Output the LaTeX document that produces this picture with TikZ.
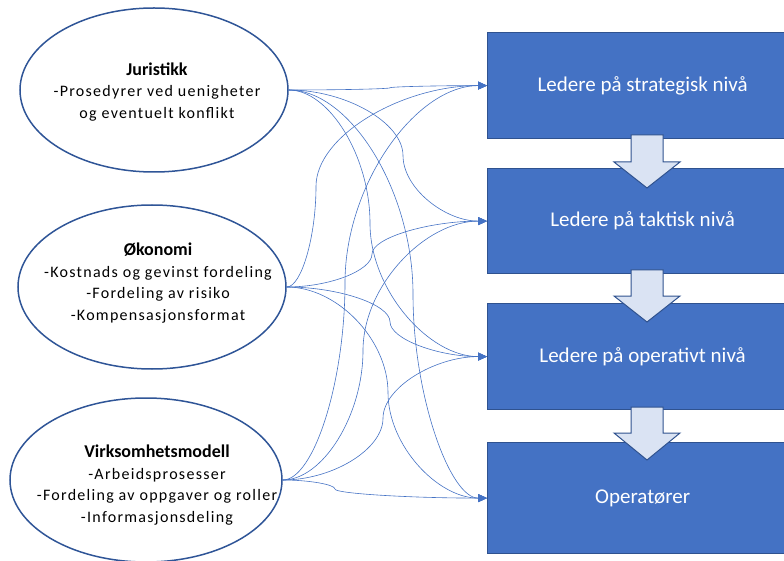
\documentclass[tikz,border=0pt]{standalone}
\usepackage{fontspec}
\setmainfont{Carlito}
\newfontfamily\bodyfont[LetterSpace=8]{Carlito}
\usetikzlibrary{shapes.geometric,arrows.meta,calc}

\definecolor{boxblue}{HTML}{4472C4}
\definecolor{boxedge}{HTML}{2F528F}
\definecolor{ringblue}{HTML}{2F5597}
\definecolor{paleblue}{HTML}{DAE3F3}

\tikzset{
  topic/.style={ellipse, draw=ringblue, line width=1.5pt, minimum width=268pt,
    minimum height=164pt, inner sep=0pt},
  topictext/.style={align=center, inner sep=0pt,
    font=\bodyfont\fontsize{16}{21.5}\selectfont},
  level/.style={rectangle, draw=boxedge, line width=1.2pt, fill=boxblue,
    minimum width=310pt, anchor=north west, text=white, inner sep=0pt,
    font=\fontsize{21}{25}\selectfont},
  conn/.style={draw=boxblue, line width=0.6pt, -{Triangle[length=9pt,width=8pt]}},
  downarrow/.style={fill=paleblue, draw=boxedge, line width=1pt, line join=miter},
}
\newcommand\topichead[1]{{\normalfont\bfseries\fontsize{18}{22}\selectfont #1}}

% curved connector from the east side of #1 to the west side of #2,
% turning vertical at x = #3
\newcommand\linkto[3]{%
  \draw[conn] let \p1=(#1.east), \p2=(#2.west) in
    (\p1) .. controls ({(\x1+#3pt)/2},\y1) and (#3pt,{\y1+(\y2-\y1)/4})
    .. (#3pt,{(\y1+\y2)/2})
    .. controls (#3pt,{\y1+3*(\y2-\y1)/4}) and ({(#3pt+\x2)/2},\y2) .. (\p2);}

\begin{document}
\begin{tikzpicture}[x=1pt,y=-1pt]
  \path[use as bounding box, clip] (0,0) rectangle (784,561);

  % topics
  \node[topic] (jur) at (154,90) {};
  \node[topic] (oko) at (152,287) {};
  \node[topic, minimum width=272pt] (virk) at (146,480) {};

  \node[topictext] (jurtext) at (157,92)
    {\topichead{Juristikk}\\-Prosedyrer ved uenigheter\\og eventuelt konflikt};
  \node[topictext] (okotext) at (158,283)
    {\topichead{Økonomi}\\-Kostnads og gevinst fordeling\\-Fordeling av risiko\\-Kompensasjonsformat};
  \node[topictext] (virktext) at (157,485)
    {\topichead{Virksomhetsmodell}\\-Arbeidsprosesser\\-Fordeling av oppgaver og roller\\-Informasjonsdeling};

  % management levels
  \node[level, minimum height=106pt] (b1) at (487,32) {Ledere på strategisk nivå};
  \node[level, minimum height=105pt] (b2) at (487,168) {Ledere på taktisk nivå};
  \node[level, minimum height=106pt] (b3) at (487,303) {Ledere på operativt nivå};
  \node[level, minimum height=111pt] (b4) at (487,442) {Operatører};

  % block arrows between the levels
  \draw[downarrow] (631,135) -- (663,135) -- (663,162) -- (680,162) -- (647,188)
    -- (614,162) -- (631,162) -- cycle;
  \draw[downarrow] (631,270) -- (663,270) -- (663,296) -- (680,296) -- (647,322)
    -- (614,296) -- (631,296) -- cycle;
  \draw[downarrow] (631,407) -- (663,407) -- (663,433) -- (680,433) -- (647,460)
    -- (614,433) -- (631,433) -- cycle;

  % connectors
  \linkto{jur}{b1}{390}
  \linkto{jur}{b2}{403}
  \linkto{jur}{b3}{370}
  \linkto{jur}{b4}{413}
  \linkto{oko}{b1}{316}
  \linkto{oko}{b2}{372}
  \linkto{oko}{b3}{390}
  \linkto{oko}{b4}{388}
  \linkto{virk}{b1}{345}
  \linkto{virk}{b2}{363}
  \linkto{virk}{b3}{383}
  \linkto{virk}{b4}{335}
\end{tikzpicture}
\end{document}
